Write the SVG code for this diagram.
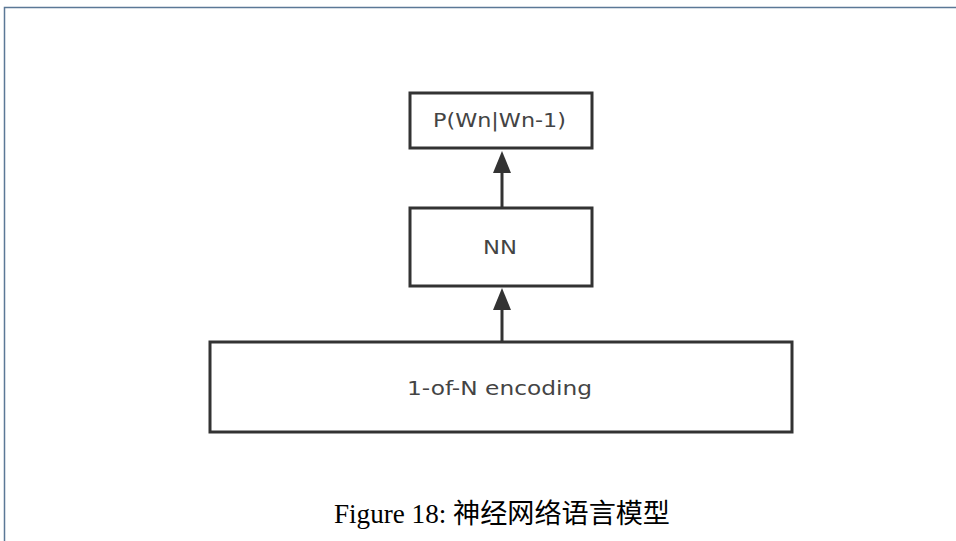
<svg xmlns="http://www.w3.org/2000/svg" width="956" height="541" viewBox="0 0 956 541">
  <style>
    .box { fill: #ffffff; stroke: #333333; stroke-width: 3; }
    .label { font-family: "DejaVu Sans", "Open Sans", sans-serif; font-size: 19px; fill: #444444; }
    .link { stroke: #333333; stroke-width: 3; fill: none; }
    .head { fill: #333333; }
    .caption { font-family: "Liberation Serif", "Noto Sans CJK SC", serif; font-size: 27px; fill: #000000; }
  </style>
  <rect width="956" height="541" fill="#ffffff"/>
  <!-- page frame -->
  <path d="M4.5,541 V7.5 H956" fill="none" stroke="#5b7896" stroke-width="1.5"/>

  <g id="connectors">
    <path class="link" d="M502,208 V168"/>
    <path class="head" d="M502,151 L493,173 L511,173 Z"/>
    <path class="link" d="M502,342 V305"/>
    <path class="head" d="M502,288 L493,310 L511,310 Z"/>
  </g>

  <g id="node-output">
    <rect class="box" x="410" y="93" width="182" height="55"/>
    <text class="label" x="433" y="127" textLength="133" lengthAdjust="spacingAndGlyphs">P(Wn|Wn-1)</text>
  </g>
  <g id="node-nn">
    <rect class="box" x="410" y="208" width="182" height="78"/>
    <text class="label" x="483" y="254" textLength="34" lengthAdjust="spacingAndGlyphs">NN</text>
  </g>
  <g id="node-encoding">
    <rect class="box" x="210" y="342" width="582" height="90"/>
    <text class="label" x="407" y="395" textLength="185" lengthAdjust="spacingAndGlyphs">1-of-N encoding</text>
  </g>

  <text class="caption" x="334" y="523" textLength="336" lengthAdjust="spacingAndGlyphs">Figure 18: 神经网络语言模型</text>
</svg>
